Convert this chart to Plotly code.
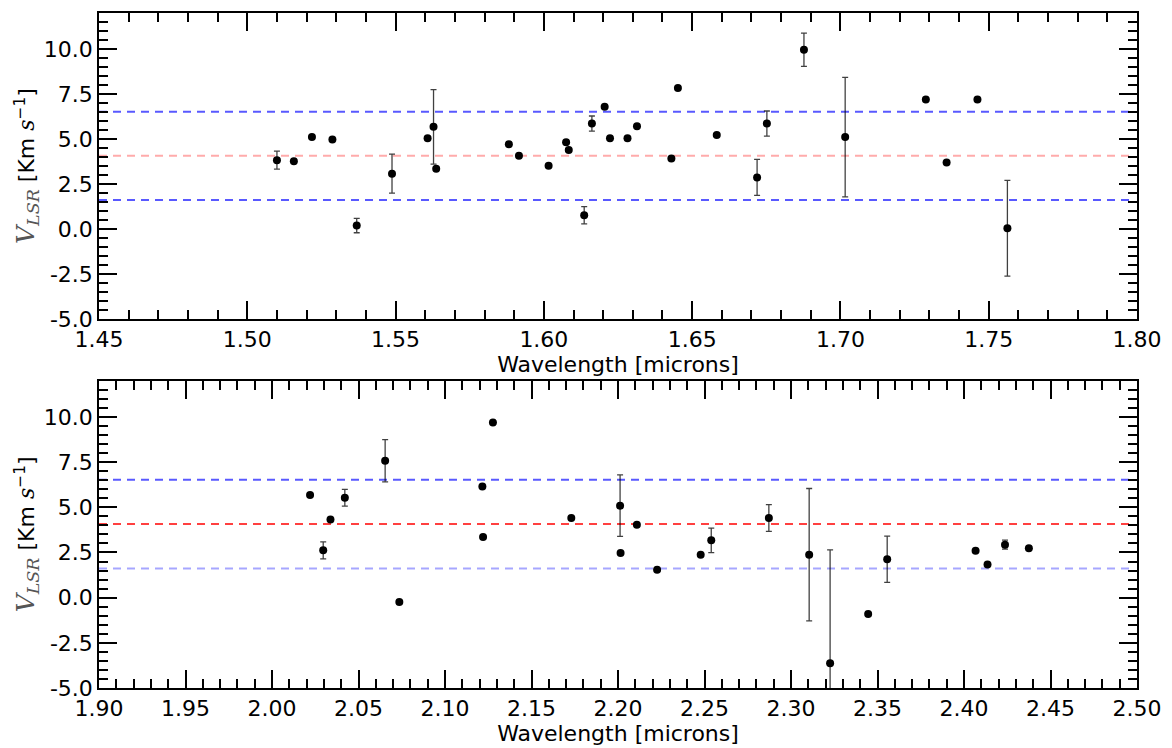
import plotly.graph_objects as go

# ---- Data: top panel (H band) ----
wl_top = [1.5100, 1.5157, 1.5218, 1.5287, 1.5369, 1.5488, 1.5608, 1.5628, 1.5637,
          1.5882, 1.5916, 1.6016, 1.6075, 1.6084, 1.6136, 1.6162, 1.6205, 1.6223,
          1.6282, 1.6314, 1.6430, 1.6452, 1.6583, 1.6719, 1.6752, 1.6877, 1.7016,
          1.7288, 1.7358, 1.7462, 1.7563]
v_top = [3.83, 3.77, 5.11, 4.98, 0.20, 3.08, 5.04, 5.68, 3.35,
         4.71, 4.07, 3.52, 4.82, 4.40, 0.77, 5.86, 6.80, 5.05,
         5.04, 5.71, 3.92, 7.84, 5.22, 2.87, 5.86, 9.96, 5.11,
         7.20, 3.70, 7.20, 0.05]
err_top = [0.50, None, None, None, 0.40, 1.08, None, 2.07, None,
           None, None, None, None, None, 0.48, 0.42, None, None,
           None, None, None, None, None, 1.00, 0.70, 0.92, 3.32,
           None, None, None, 2.66]

# ---- Data: bottom panel (K band) ----
wl_bot = [2.0220, 2.0296, 2.0338, 2.0421, 2.0654, 2.0736, 2.1216, 2.1220, 2.1277,
          2.1730, 2.2012, 2.2015, 2.2109, 2.2226, 2.2478, 2.2539, 2.2872, 2.3105,
          2.3226, 2.3446, 2.3556, 2.4067, 2.4136, 2.4237, 2.4375]
v_bot = [5.68, 2.62, 4.32, 5.53, 7.58, -0.24, 6.15, 3.35, 9.69,
         4.41, 5.09, 2.47, 4.03, 1.54, 2.38, 3.17, 4.41, 2.38,
         -3.63, -0.90, 2.13, 2.60, 1.83, 2.93, 2.73]
err_bot = [None, 0.47, None, 0.46, 1.17, None, None, None, None,
           None, 1.70, None, None, None, None, 0.68, 0.74, 3.66,
           6.27, None, 1.28, None, None, 0.25, None]

# mean and +/- 1 sigma lines
mean_v = 4.07
sigma_lines = [6.52, 1.62]

y_tickvals = [-5, -2.5, 0, 2.5, 5, 7.5, 10]
y_ticktext = ["-5.0", "-2.5", "0.0", "2.5", "5.0", "7.5", "10.0"]

FONT = "DejaVu Sans"

fig = go.Figure()

def add_panel(wl, v, err, xa, ya):
    fig.add_trace(go.Scatter(
        x=wl, y=v, mode="markers", xaxis=xa, yaxis=ya,
        marker=dict(color="black", size=8),
        error_y=dict(type="data", array=[e if e is not None else float("nan") for e in err],
                     visible=True, color="rgba(0,0,0,0.75)", thickness=1.3, width=3),
        showlegend=False))

add_panel(wl_top, v_top, err_top, "x", "y")
add_panel(wl_bot, v_bot, err_bot, "x2", "y2")

dash = "8px,6px"
BLUE = "rgba(0,0,255,0.65)"
BLUE_L = "rgba(0,0,255,0.35)"
RED = "rgba(255,0,0,0.75)"
RED_L = "rgba(255,0,0,0.33)"

def hline(xr, yr, yv, col):
    fig.add_shape(type="line", xref=xr, yref=yr, x0=0, x1=0.995, y0=yv, y1=yv,
                  line=dict(color=col, width=2, dash=dash), layer="below")

# top panel lines
hline("x domain", "y", sigma_lines[0], BLUE)
hline("x domain", "y", mean_v, RED_L)
hline("x domain", "y", sigma_lines[1], BLUE)
# bottom panel lines
hline("x2 domain", "y2", sigma_lines[0], BLUE)
hline("x2 domain", "y2", mean_v, RED)
hline("x2 domain", "y2", sigma_lines[1], BLUE_L)

ytitle = ('<span style="font-family:DejaVu Serif;color:#555;font-size:25px"><i>V</i><sub><i>LSR</i></sub></span>'
          ' [Km <span style="font-family:DejaVu Serif"><i>s</i></span><sup>−1</sup>]')

common_x = dict(showline=True, linecolor="black", linewidth=1.5, mirror="allticks",
                ticks="inside", ticklen=18, tickwidth=1.5, tickcolor="black",
                showgrid=False, zeroline=False, tickformat=".2f", dtick=0.05,
                tickfont=dict(family=FONT, size=22, color="black"),
                minor=dict(ticks="inside", ticklen=9, tickwidth=1.5, tickcolor="black", dtick=0.01, showgrid=False),
                title=dict(text="Wavelength [microns]", font=dict(family=FONT, size=22, color="black"), standoff=0))
common_y = dict(showline=True, linecolor="black", linewidth=1.5, mirror="allticks",
                ticks="inside", ticklen=18, tickwidth=1.5, tickcolor="black",
                showgrid=False, zeroline=False, range=[-5, 12],
                tickvals=y_tickvals, ticktext=y_ticktext,
                tickfont=dict(family=FONT, size=22, color="black"),
                minor=dict(ticks="inside", ticklen=9, tickwidth=1.5, tickcolor="black", dtick=0.5, showgrid=False),
                title=dict(text=ytitle, font=dict(family=FONT, size=22, color="black"), standoff=3))

fig.update_layout(
    width=1172, height=748,
    margin=dict(l=99, r=27, t=11, b=58),
    paper_bgcolor="white", plot_bgcolor="white",
    xaxis=dict(common_x, range=[1.45, 1.80], anchor="y", domain=[0, 1]),
    yaxis=dict(common_y, anchor="x", domain=[0.5464, 1]),
    xaxis2=dict(common_x, range=[1.90, 2.50], anchor="y2", domain=[0, 1]),
    yaxis2=dict(common_y, anchor="x2", domain=[0, 0.4551]),
)

fig.write_html("out.html")
